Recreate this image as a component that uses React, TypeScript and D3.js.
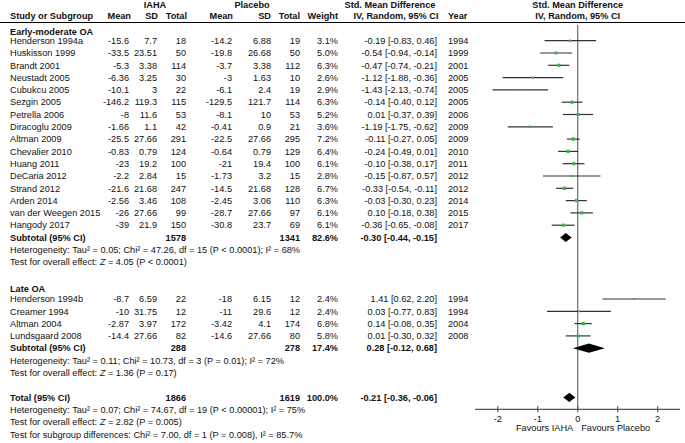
import React from "react";
import * as d3 from "d3";

// ---------- data ----------
const earlyStudies = ["Henderson 1994a","Huskisson 1999","Brandt 2001","Neustadt 2005","Cubukcu 2005","Sezgin 2005","Petrella 2006","Diracoglu 2009","Altman 2009","Chevalier 2010","Huang 2011","DeCaria 2012","Strand 2012","Arden 2014","van der Weegen 2015","Hangody 2017"];
const earlyIahaMean = [-15.6,-33.5,-5.3,-6.36,-10.1,-146.2,-8,-1.66,-25.5,-0.83,-23,-2.2,-21.6,-2.56,-26,-39];
const earlyIahaSD = [7.7,23.51,3.38,3.25,3,119.3,11.6,1.1,27.66,0.79,19.2,2.84,21.68,3.46,27.66,21.9];
const earlyIahaN = [18,50,114,30,22,115,53,42,291,124,100,15,247,108,99,150];
const earlyPlMean = [-14.2,-19.8,-3.7,-3,-6.1,-129.5,-8.1,-0.41,-22.5,-0.64,-21,-1.73,-14.5,-2.45,-28.7,-30.8];
const earlyPlSD = [6.88,26.68,3.38,1.63,2.4,121.7,10,0.9,27.66,0.79,19.4,3.2,21.68,3.06,27.66,23.7];
const earlyPlN = [19,50,112,10,19,114,53,21,295,129,100,15,128,110,97,69];
const earlyWeight = [3.1,5.0,6.3,2.6,2.9,6.3,5.2,3.6,7.2,6.4,6.1,2.8,6.7,6.3,6.1,6.1];
const earlySmd = [-0.19,-0.54,-0.47,-1.12,-1.43,-0.14,0.01,-1.19,-0.11,-0.24,-0.10,-0.15,-0.33,-0.03,0.10,-0.36];
const earlyLo = [-0.83,-0.94,-0.74,-1.88,-2.13,-0.40,-0.37,-1.75,-0.27,-0.49,-0.38,-0.87,-0.54,-0.30,-0.18,-0.65];
const earlyHi = [0.46,-0.14,-0.21,-0.36,-0.74,0.12,0.39,-0.62,0.05,0.01,0.17,0.57,-0.11,0.23,0.38,-0.08];
const earlyYear = [1994,1999,2001,2005,2005,2005,2006,2009,2009,2010,2011,2012,2012,2014,2015,2017];

const lateStudies = ["Henderson 1994b","Creamer 1994","Altman 2004","Lundsgaard 2008"];
const lateIahaMean = [-8.7,-10,-2.87,-14.4];
const lateIahaSD = [6.59,31.75,3.97,27.66];
const lateIahaN = [22,12,172,82];
const latePlMean = [-18,-11,-3.42,-14.6];
const latePlSD = [6.15,29.6,4.1,27.66];
const latePlN = [12,12,174,80];
const lateWeight = [2.4,2.4,6.8,5.8];
const lateSmd = [1.41,0.03,0.14,0.01];
const lateLo = [0.62,-0.77,-0.08,-0.30];
const lateHi = [2.20,0.83,0.35,0.32];
const lateYear = [1994,1994,2004,2008];

// subtotal / total: [iahaN, placeboN, weight, smd, lo, hi]
const subtotalEarly = [1578, 1341, 82.6, -0.30, -0.44, -0.15];
const subtotalLate = [288, 278, 17.4, 0.28, -0.12, 0.68];
const overallTotal = [1866, 1619, 100.0, -0.21, -0.36, -0.06];

const hetEarly = "Heterogeneity: Tau² = 0.05; Chi² = 47.26, df = 15 (P < 0.0001); I² = 68%";
const testEarly = ["Test for overall effect: ", "Z", " = 4.05 (P < 0.0001)"];
const hetLate = "Heterogeneity: Tau² = 0.11; Chi² = 10.73, df = 3 (P = 0.01); I² = 72%";
const testLate = ["Test for overall effect: ", "Z", " = 1.36 (P = 0.17)"];
const hetTotal = "Heterogeneity: Tau² = 0.07; Chi² = 74.67, df = 19 (P < 0.00001); I² = 75%";
const testTotal = ["Test for overall effect: ", "Z", " = 2.82 (P = 0.005)"];
const testSub = "Test for subgroup differences: Chi² = 7.00, df = 1 (P = 0.008), I² = 85.7%";

const axisTicks = [-2, -1, 0, 1, 2];
const favoursLeft = "Favours IAHA";
const favoursRight = "Favours Placebo";

// ---------- layout ----------
const W = 685, H = 443;
const FONT = "'Liberation Sans', Arial, sans-serif";
const FS = 9.2;
const x = d3.scaleLinear().domain([-2.57, 2.56]).range([475, 680]);
const rowY = d3.scaleLinear().domain([0, 1]).range([40.7, 53.0]);
const col = { study: 10, iM: 129, iSD: 157, iN: 186, pM: 232, pSD: 271, pN: 300, w: 338, ci: 437, year: 448 };
const AXIS_Y = 409.3;
const DIAMOND_H = 4.6;

const fmtCI = (m: number, lo: number, hi: number) => `${m.toFixed(2)} [${lo.toFixed(2)}, ${hi.toFixed(2)}]`;

function T(props: any) {
  const { x, y, anchor = "start", bold = false, children, size = FS } = props;
  return (
    <text x={x} y={y} dy="0.35em" textAnchor={anchor} fontFamily={FONT} fontSize={size}
      fontWeight={bold ? "bold" : "normal"} fill="#111">{children}</text>
  );
}

function StudyRow(p: any) {
  const { y, name, im, isd, iN, pm, psd, pN, w, smd, lo, hi, year } = p;
  const side = Math.sqrt(w) * 1.3;
  return (
    <g>
      <T x={col.study} y={y}>{name}</T>
      <T x={col.iM} y={y} anchor="end">{String(im)}</T>
      <T x={col.iSD} y={y} anchor="end">{String(isd)}</T>
      <T x={col.iN} y={y} anchor="end">{String(iN)}</T>
      <T x={col.pM} y={y} anchor="end">{String(pm)}</T>
      <T x={col.pSD} y={y} anchor="end">{String(psd)}</T>
      <T x={col.pN} y={y} anchor="end">{String(pN)}</T>
      <T x={col.w} y={y} anchor="end">{w.toFixed(1) + "%"}</T>
      <T x={col.ci} y={y} anchor="end">{fmtCI(smd, lo, hi)}</T>
      <T x={col.year} y={y}>{String(year)}</T>
      <line x1={x(lo)} x2={x(hi)} y1={y} y2={y} stroke="#333" strokeWidth={1.2} />
      <rect x={x(smd) - side / 2} y={y - side / 2} width={side} height={side} fill="#3cb64a" />
    </g>
  );
}

function SummaryRow(p: any) {
  const { y, label, vals } = p;
  const [iN, pN, w, m, lo, hi] = vals;
  const path = `M${x(lo)},${y} L${x(m)},${y - DIAMOND_H} L${x(hi)},${y} L${x(m)},${y + DIAMOND_H} Z`;
  return (
    <g>
      <T x={col.study} y={y} bold>{label}</T>
      <T x={col.iN} y={y} anchor="end" bold>{String(iN)}</T>
      <T x={col.pN} y={y} anchor="end" bold>{String(pN)}</T>
      <T x={col.w} y={y} anchor="end" bold>{w.toFixed(1) + "%"}</T>
      <T x={col.ci} y={y} anchor="end" bold>{fmtCI(m, lo, hi)}</T>
      <path d={path} fill="#000" />
    </g>
  );
}

function TestLine(p: any) {
  const { y, parts } = p;
  return (
    <text x={col.study} y={y} dy="0.35em" fontFamily={FONT} fontSize={FS} fill="#111">
      {parts[0]}<tspan fontStyle="italic">{parts[1]}</tspan>{parts[2]}
    </text>
  );
}

export default function App() {
  const early = earlyStudies.map((name, i) => ({
    name, im: earlyIahaMean[i], isd: earlyIahaSD[i], iN: earlyIahaN[i], pm: earlyPlMean[i], psd: earlyPlSD[i],
    pN: earlyPlN[i], w: earlyWeight[i], smd: earlySmd[i], lo: earlyLo[i], hi: earlyHi[i], year: earlyYear[i], y: rowY(i),
  }));
  const late = lateStudies.map((name, i) => ({
    name, im: lateIahaMean[i], isd: lateIahaSD[i], iN: lateIahaN[i], pm: latePlMean[i], psd: latePlSD[i],
    pN: latePlN[i], w: lateWeight[i], smd: lateSmd[i], lo: lateLo[i], hi: lateHi[i], year: lateYear[i], y: rowY(21 + i),
  }));
  const h1 = 4.6, h2 = 16.2, lineY = 22.5;
  return (
    <svg width={W} height={H} style={{ position: "absolute", left: 0, top: 0, background: "#fff" }}>
      <rect width={W} height={H} fill="#fff" />
      {/* headers */}
      <T x={155} y={h1} anchor="middle" bold>IAHA</T>
      <T x={252} y={h1} anchor="middle" bold>Placebo</T>
      <T x={390} y={h1} anchor="middle" bold>Std. Mean Difference</T>
      <T x={x(0)} y={h1} anchor="middle" bold>Std. Mean Difference</T>
      <T x={col.study} y={h2} bold>Study or Subgroup</T>
      <T x={col.iM + 2} y={h2} anchor="end" bold>Mean</T>
      <T x={col.iSD + 1} y={h2} anchor="end" bold>SD</T>
      <T x={col.iN + 1} y={h2} anchor="end" bold>Total</T>
      <T x={col.pM + 1} y={h2} anchor="end" bold>Mean</T>
      <T x={col.pSD} y={h2} anchor="end" bold>SD</T>
      <T x={col.pN} y={h2} anchor="end" bold>Total</T>
      <T x={col.w} y={h2} anchor="end" bold>Weight</T>
      <T x={396} y={h2} anchor="middle" bold>IV, Random, 95% CI</T>
      <T x={col.year} y={h2} bold>Year</T>
      <T x={x(0)} y={h2} anchor="middle" bold>IV, Random, 95% CI</T>
      <line x1={0} x2={W} y1={lineY} y2={lineY} stroke="#000" strokeWidth={1.2} />

      {/* zero line */}
      <line x1={x(0)} x2={x(0)} y1={25} y2={AXIS_Y} stroke="#777" strokeWidth={1.3} />

      {/* early */}
      <T x={col.study} y={rowY(-0.75)} bold>Early-moderate OA</T>
      {early.map((d) => <StudyRow key={d.name} {...d} />)}
      <SummaryRow y={rowY(16)} label="Subtotal (95% CI)" vals={subtotalEarly} />
      <T x={col.study} y={rowY(17)}>{hetEarly}</T>
      <TestLine y={rowY(18)} parts={testEarly} />

      {/* late */}
      <T x={col.study} y={rowY(20.15)} bold>Late OA</T>
      {late.map((d) => <StudyRow key={d.name} {...d} />)}
      <SummaryRow y={rowY(25)} label="Subtotal (95% CI)" vals={subtotalLate} />
      <T x={col.study} y={rowY(26)}>{hetLate}</T>
      <TestLine y={rowY(27)} parts={testLate} />

      {/* total */}
      <SummaryRow y={rowY(29)} label="Total (95% CI)" vals={overallTotal} />
      <T x={col.study} y={rowY(30)}>{hetTotal}</T>
      <TestLine y={rowY(31)} parts={testTotal} />
      <T x={col.study} y={rowY(32)}>{testSub}</T>

      {/* axis */}
      <line x1={x.range()[0]} x2={x.range()[1]} y1={AXIS_Y} y2={AXIS_Y} stroke="#555" strokeWidth={1.2} />
      {axisTicks.map((t) => (
        <g key={t}>
          <line x1={x(t)} x2={x(t)} y1={AXIS_Y - 3} y2={AXIS_Y + 3} stroke="#555" strokeWidth={1.2} />
          <T x={x(t)} y={AXIS_Y + 9} anchor="middle">{String(t)}</T>
        </g>
      ))}
      <T x={x(0) - 4.5} y={427.8} anchor="end">{favoursLeft}</T>
      <T x={x(0) + 3.5} y={427.8}>{favoursRight}</T>
    </svg>
  );
}
